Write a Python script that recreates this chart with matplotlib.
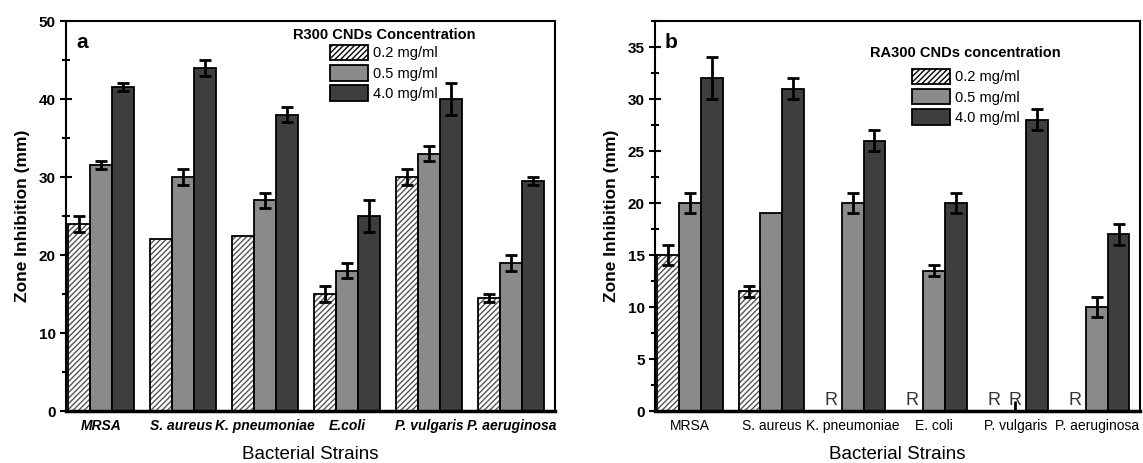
import matplotlib
matplotlib.use("Agg")
import matplotlib.pyplot as plt
from matplotlib.patches import Patch
import numpy as np

plt.rcParams['font.family'] = ['Liberation Sans', 'DejaVu Sans']

strains = ["MRSA", "S. aureus", "K. pneumoniae", "E. coli", "P. vulgaris", "P. aeruginosa"]
strains_a = ["MRSA", "S. aureus ", "K. pneumoniae", "E.coli", "P. vulgaris", "P. aeruginosa"]
conc_labels = ["0.2 mg/ml", "0.5 mg/ml", "4.0 mg/ml"]

# Panel a: R300 CNDs
a_02 = [24, 22, 22.5, 15, 30, 14.5]
a_02_err = [1, 0, 0, 1, 1, 0.5]
a_05 = [31.5, 30, 27, 18, 33, 19]
a_05_err = [0.5, 1, 1, 1, 1, 1]
a_40 = [41.5, 44, 38, 25, 40, 29.5]
a_40_err = [0.5, 1, 1, 2, 2, 0.5]

# Panel b: RA300 CNDs (None = resistant, "R")
b_02 = [15, 11.5, None, None, None, None]
b_02_err = [1, 0.5, 0, 0, 0, 0]
b_05 = [20, 19, 20, 13.5, None, 10]
b_05_err = [1, 0, 1, 0.5, 0, 1]
b_40 = [32, 31, 26, 20, 28, 17]
b_40_err = [2, 1, 1, 1, 1, 1]

fills = ["white", "#8a8a8a", "#3e3e3e"]
hatches = ["//////", None, None]

fig = plt.figure(figsize=(11.43, 4.63), dpi=100)
axa = fig.add_axes([0.0577, 0.1123, 0.4278, 0.8423])
axb = fig.add_axes([0.573, 0.1123, 0.4243, 0.8423])

bw = 0.268

def draw(ax, series, errs, labels_x, ymax, major, minor, italic, title, legx, legy, sep, letter):
    x = np.arange(len(labels_x))
    handles = []
    for i, (vals, err) in enumerate(zip(series, errs)):
        xs = x + (i - 1) * bw
        for j, v in enumerate(vals):
            if v is None:
                ax.text(xs[j], 0.2, "R", ha="center", va="bottom", fontsize=13, color="#333333")
        v = np.array([0 if t is None else t for t in vals], dtype=float)
        if hatches[i]:
            ax.bar(xs, v, bw, color=fills[i], edgecolor="#555555", hatch=hatches[i], linewidth=0, zorder=2)
            ax.bar(xs, v, bw, facecolor="none", edgecolor="black", linewidth=1.3, zorder=3)
        else:
            ax.bar(xs, v, bw, color=fills[i], edgecolor="black", linewidth=1.3, zorder=2)
        mask = np.array([(t is not None) and e > 0 for t, e in zip(vals, err)])
        ax.errorbar(xs[mask], v[mask], yerr=np.array(err)[mask], fmt="none", ecolor="black",
                    elinewidth=2, capsize=4, capthick=2, zorder=4)
        handles.append(Patch(facecolor=fills[i], edgecolor="black", hatch=hatches[i], linewidth=1.3))
    ax.set_xlim(-0.43, len(labels_x) - 1 + 0.53)
    ax.set_ylim(0, ymax)
    ax.set_yticks(np.arange(0, ymax + 0.01, major))
    ax.set_yticks(np.arange(0, ymax + 0.01, minor), minor=True)
    ax.set_xticks(x)
    ax.set_xticklabels(labels_x, fontsize=10, fontweight="bold" if italic else "normal",
                       style="italic" if italic else "normal")
    ax.tick_params(axis="x", direction="in", length=7, width=2, pad=6)
    ax.tick_params(axis="y", which="major", direction="inout", length=8, width=1.5, labelsize=11)
    ax.tick_params(axis="y", which="minor", direction="inout", length=6, width=1.5)
    for lab in ax.get_yticklabels():
        lab.set_fontweight("bold")
    for s in ax.spines.values():
        s.set_linewidth(1.5)
    ax.spines["bottom"].set_linewidth(2.5)
    ax.set_ylabel("Zone Inhibition (mm)", fontsize=12.5, fontweight="bold", labelpad=6)
    ax.set_xlabel("Bacterial Strains", fontsize=13.5, labelpad=9)
    leg = ax.legend(handles, conc_labels, title=title, loc="upper center",
                    bbox_to_anchor=(legx, legy), frameon=False, fontsize=10.5,
                    handlelength=2.6, handleheight=1.25, labelspacing=0.32,
                    handletextpad=0.3, borderpad=0, borderaxespad=0)
    leg.get_title().set_fontweight("bold")
    leg.get_title().set_fontsize(10.5)
    leg._legend_box.sep = sep
    ax.text(0.033, 0.946, letter, transform=ax.transAxes, fontsize=15, fontweight="bold",
            ha="center", va="center")

draw(axa, [a_02, a_05, a_40], [a_02_err, a_05_err, a_40_err], strains_a, 50, 10, 5, True,
     "R300 CNDs Concentration", 0.650, 0.982, 2, "a")
draw(axb, [b_02, b_05, b_40], [b_02_err, b_05_err, b_40_err], strains, 37.5, 5, 2.5, False,
     "RA300 CNDs concentration", 0.641, 0.935, 6, "b")

fig.savefig("out.png", dpi=100)
